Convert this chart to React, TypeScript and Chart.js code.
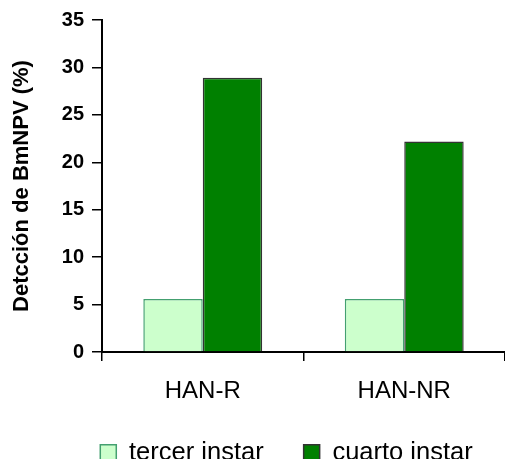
import React, { useEffect, useRef } from "react";
import { Chart, registerables } from "chart.js";

Chart.register(...registerables);

const categories = ["HAN-R", "HAN-NR"];
const tercerInstar = [5.6, 5.6];
const cuartoInstar = [28.9, 22.2];
const seriesNames = ["tercer instar", "cuarto instar"];
const yTitle = "Detcción de BmNPV (%)";
const yMin = 0;
const yMax = 35;
const yStep = 5;

const FONT = "Liberation Sans, Arial, sans-serif";

export default function App() {
  const ref = useRef<HTMLCanvasElement | null>(null);

  useEffect(() => {
    document.body.style.margin = "0";
    const canvas = ref.current;
    if (!canvas) return;
    const legendTweak = {
      id: "legendTweak",
      beforeLayout(chart: any) {
        const lg = chart.legend;
        if (lg && !lg._tweaked) {
          const orig = lg.fit.bind(lg);
          lg.fit = function () {
            orig();
            this.height = 59;
          };
          lg._tweaked = true;
        }
      },
      afterLayout(chart: any) {
        const lg = chart.legend;
        if (lg) {
          const dy = -6;
          const dx = 33;
          lg.top += dy;
          lg.bottom += dy;
          lg.left += dx;
          lg.right += dx;
        }
      },
    };
    const chart = new Chart(canvas, {
      type: "bar",
      data: {
        labels: categories,
        datasets: [
          {
            label: seriesNames[0],
            data: tercerInstar,
            backgroundColor: "#CCFFCC",
            borderColor: "#44A070",
            borderWidth: 1.5,
          },
          {
            label: seriesNames[1],
            data: cuartoInstar,
            backgroundColor: "#008000",
            borderColor: "#333333",
            borderWidth: 1.5,
          },
        ],
      },
      options: {
        responsive: false,
        animation: false,
        layout: { padding: { top: 16, right: -2, left: 0, bottom: 0 } },
        datasets: {
          bar: { categoryPercentage: 0.59, barPercentage: 1 },
        },
        plugins: {
          tooltip: { enabled: false },
          legend: {
            position: "bottom",
            labels: {
              boxWidth: 16,
              boxHeight: 16,
              padding: 40,
              color: "#000",
              font: { family: FONT, size: 25.5 },
            },
          },
        },
        scales: {
          x: {
            afterFit(scale: any) {
              scale.height = 54;
            },
            grid: {
              offset: true,
              drawOnChartArea: false,
              tickLength: 9,
              color: "#000",
              lineWidth: 1.5,
            },
            border: { color: "#000", width: 2 },
            ticks: {
              color: "#000",
              padding: 16,
              font: { family: FONT, size: 24 },
            },
          },
          y: {
            min: yMin,
            max: yMax,
            afterFit(scale: any) {
              scale.width = 102;
            },
            ticks: {
              stepSize: yStep,
              color: "#000",
              padding: 8,
              font: { family: FONT, size: 20, weight: "bold" },
            },
            grid: {
              drawOnChartArea: false,
              tickLength: 10,
              color: "#000",
              lineWidth: 1.5,
            },
            border: { color: "#000", width: 2 },
            title: {
              display: true,
              text: yTitle,
              color: "#000",
              padding: { top: 9, bottom: 0 },
              font: { family: FONT, size: 22, weight: "bold" },
            },
          },
        },
      },
      plugins: [legendTweak],
    });
    return () => chart.destroy();
  }, []);

  return (
    <div style={{ width: 505, height: 465 }}>
      <canvas ref={ref} width={505} height={465} />
    </div>
  );
}
